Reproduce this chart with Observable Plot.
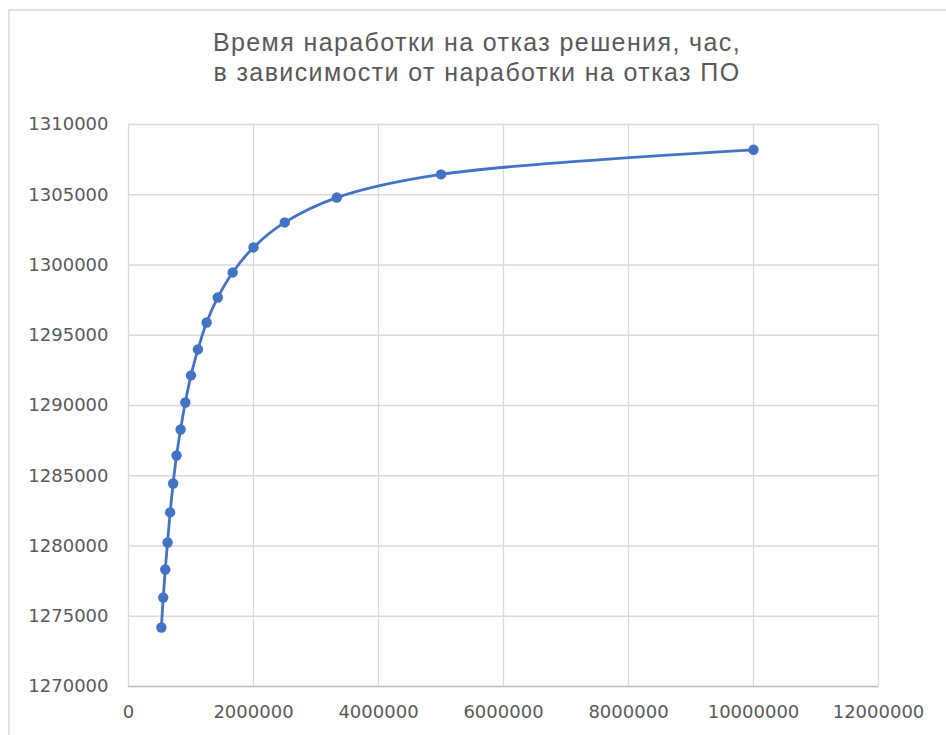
<!DOCTYPE html>
<html>
<head>
<meta charset="utf-8">
<script src="https://cdn.jsdelivr.net/npm/d3@7"></script>
<script src="https://cdn.jsdelivr.net/npm/@observablehq/plot@0.6"></script>
<style>
  html, body { margin: 0; padding: 0; background: #fff; width: 946px; height: 735px; overflow: hidden; }
  #wrap { position: relative; width: 946px; height: 735px; }
  #frame { position: absolute; left: 8px; top: 9px; right: -10px; bottom: -10px; border: 2px solid #e0e0e0; }
  #title { position: absolute; left: 0; top: 0; width: 954px; padding-top: 27px; text-align: center;
           font-family: "Liberation Sans", Arial, sans-serif; font-size: 25px; letter-spacing: 1.4px;
           line-height: 30px; color: #595959; }
  #chart { position: absolute; left: 0; top: 100px; }
</style>
</head>
<body>
<div id="wrap">
  <div id="frame"></div>
  <div id="title">Время наработки на отказ решения, час,<br>в зависимости от наработки на отказ ПО</div>
  <div id="chart"></div>
</div>
<script>
// MTBF of software (x, hours)
const softwareMtbf = [10000000, 5000000, 3333333, 2500000, 2000000, 1666667, 1428571, 1250000, 1111111, 1000000,
                      909091, 833333, 769231, 714286, 666667, 625000, 588235, 555556, 526316];
// MTBF of solution (y, hours)
const solutionMtbf = [1308200, 1306450, 1304800, 1303030, 1301250, 1299470, 1297690, 1295910, 1293990, 1292140,
                      1290210, 1288290, 1286440, 1284450, 1282390, 1280250, 1278330, 1276330, 1274200];
const xTicks = [0, 2000000, 4000000, 6000000, 8000000, 10000000, 12000000];
const yTicks = [1270000, 1275000, 1280000, 1285000, 1290000, 1295000, 1300000, 1305000, 1310000];

const data = softwareMtbf.map((x, i) => ({x, y: solutionMtbf[i]}));

const chart = Plot.plot({
  width: 946,
  height: 635,
  marginLeft: 128,
  marginRight: 68,
  marginTop: 24,
  marginBottom: 49,
  style: {fontFamily: "'DejaVu Sans', sans-serif", fontSize: "18px", color: "#595959", background: "transparent"},
  x: {domain: [0, 12000000]},
  y: {domain: [1270000, 1310000]},
  marks: [
    Plot.gridX(xTicks, {stroke: "#d9d9d9", strokeOpacity: 1, strokeWidth: 1.3}),
    Plot.gridY(yTicks, {stroke: "#d9d9d9", strokeOpacity: 1, strokeWidth: 1.3}),
    Plot.ruleY([yTicks[0]], {stroke: "#bfbfbf", strokeWidth: 1.6}),
    Plot.axisX(xTicks, {tickSize: 0, tickPadding: 19, tickFormat: d => String(d), label: null}),
    Plot.axisY(yTicks, {tickSize: 0, tickPadding: 20, tickFormat: d => String(d), label: null}),
    Plot.line(data, {x: "x", y: "y", curve: "catmull-rom", stroke: "#4472C4", strokeWidth: 2.8}),
    Plot.dot(data, {x: "x", y: "y", r: 5.2, fill: "#4472C4", stroke: "none"})
  ]
});
document.getElementById("chart").appendChild(chart);
</script>
</body>
</html>
